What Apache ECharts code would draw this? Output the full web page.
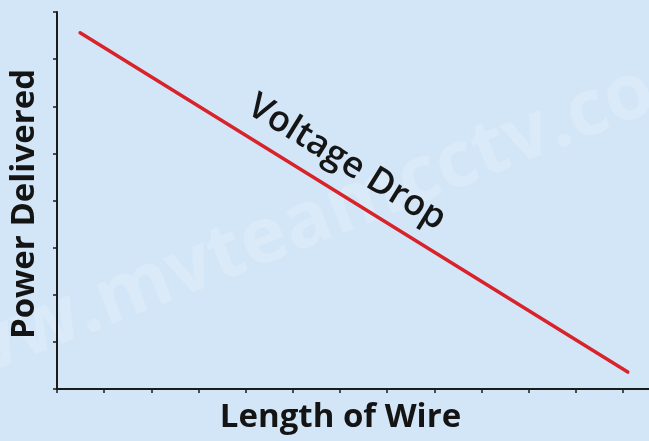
<!DOCTYPE html>
<html><head><meta charset="utf-8">
<script src="https://cdn.jsdelivr.net/npm/echarts@6/dist/echarts.min.js"></script>
<style>html,body{margin:0;padding:0;background:#d3e6f7}#c{width:649px;height:441px}</style>
</head><body><div id="c"></div>
<script>
// Data (axes carry no numeric labels)
const lengthOfWire = [0.49, 12.1];
const powerDelivered = [7.56, 0.36];
const xTickValues = [0,1,2,3,4,5,6,7,8,9,10,11,12];
const yTickValues = [0,1,2,3,4,5,6,7,8];
const xTitle = 'Length of Wire';
const yTitle = 'Power Delivered';
const lineLabel = 'Voltage Drop';
const watermarkLeft = 'www';
const watermarkRight = '.mvteamcctv.com';

const chart = echarts.init(document.getElementById('c'), null, {renderer: 'canvas'});
const axisColor = '#1b1b1b';
const font = '"Open Sans", "DejaVu Sans", sans-serif';
const pts = lengthOfWire.map((x, i) => [x, powerDelivered[i]]);

chart.setOption({
  backgroundColor: '#d3e6f7',
  animation: false,
  grid: {left: 57, right: 0, top: 12, bottom: 52},
  xAxis: {
    type: 'value', min: 0, max: 12.55,
    axisLine: {show: true, lineStyle: {color: axisColor, width: 2}},
    axisTick: {show: true, customValues: xTickValues, length: 4, lineStyle: {color: axisColor, width: 1.5}},
    axisLabel: {show: false},
    splitLine: {show: false}
  },
  yAxis: {
    type: 'value', min: 0, max: 8, interval: 1,
    axisLine: {show: true, lineStyle: {color: axisColor, width: 2}},
    axisTick: {show: true, length: 4, lineStyle: {color: axisColor, width: 1.5}},
    axisLabel: {show: false},
    splitLine: {show: false}
  },
  series: [{
    type: 'line', data: pts, symbol: 'none', z: 5,
    lineStyle: {color: '#d9232b', width: 3.5, cap: 'round'}
  }]
});

// Label along the line, placed from the line's own pixel geometry
const p0 = chart.convertToPixel({gridIndex: 0}, pts[0]);
const p1 = chart.convertToPixel({gridIndex: 0}, pts[1]);
const ang = Math.atan2(p1[1] - p0[1], p1[0] - p0[0]);
const d = [Math.cos(ang), Math.sin(ang)];
const n = [Math.sin(ang), -Math.cos(ang)]; // normal pointing up
const mid = [(p0[0] + p1[0]) / 2, (p0[1] + p1[1]) / 2];
const along = -27, up = 30;
const lx = mid[0] + along * d[0] + up * n[0];
const ly = mid[1] + along * d[1] + up * n[1];

chart.setOption({
  graphic: [
    {type: 'text', x: 92, y: 350, rotation: 0.375, z: 0, silent: true,
     style: {text: watermarkRight, fill: 'rgba(255,255,255,0.16)', font: 'bold 78px ' + font, textAlign: 'left', textVerticalAlign: 'bottom'}},
    {type: 'text', x: 92, y: 350, rotation: 0.375, z: 0, silent: true,
     style: {text: watermarkLeft, fill: 'rgba(255,255,255,0.16)', font: 'bold 78px ' + font, textAlign: 'right', textVerticalAlign: 'bottom'}},
    {type: 'text', x: 24.5, y: 204, rotation: Math.PI / 2, z: 10,
     style: {text: yTitle, fill: '#141414', font: 'bold 33px ' + font, textAlign: 'center', textVerticalAlign: 'middle'}},
    {type: 'text', x: 340.5, y: 417.5, z: 10,
     style: {text: xTitle, fill: '#141414', font: 'bold 33px ' + font, textAlign: 'center', textVerticalAlign: 'middle'}},
    {type: 'text', x: lx, y: ly, rotation: -ang, z: 10,
     style: {text: lineLabel, fill: '#151515', font: '600 36px ' + font, textAlign: 'center', textVerticalAlign: 'middle'}}
  ]
});
</script></body></html>
